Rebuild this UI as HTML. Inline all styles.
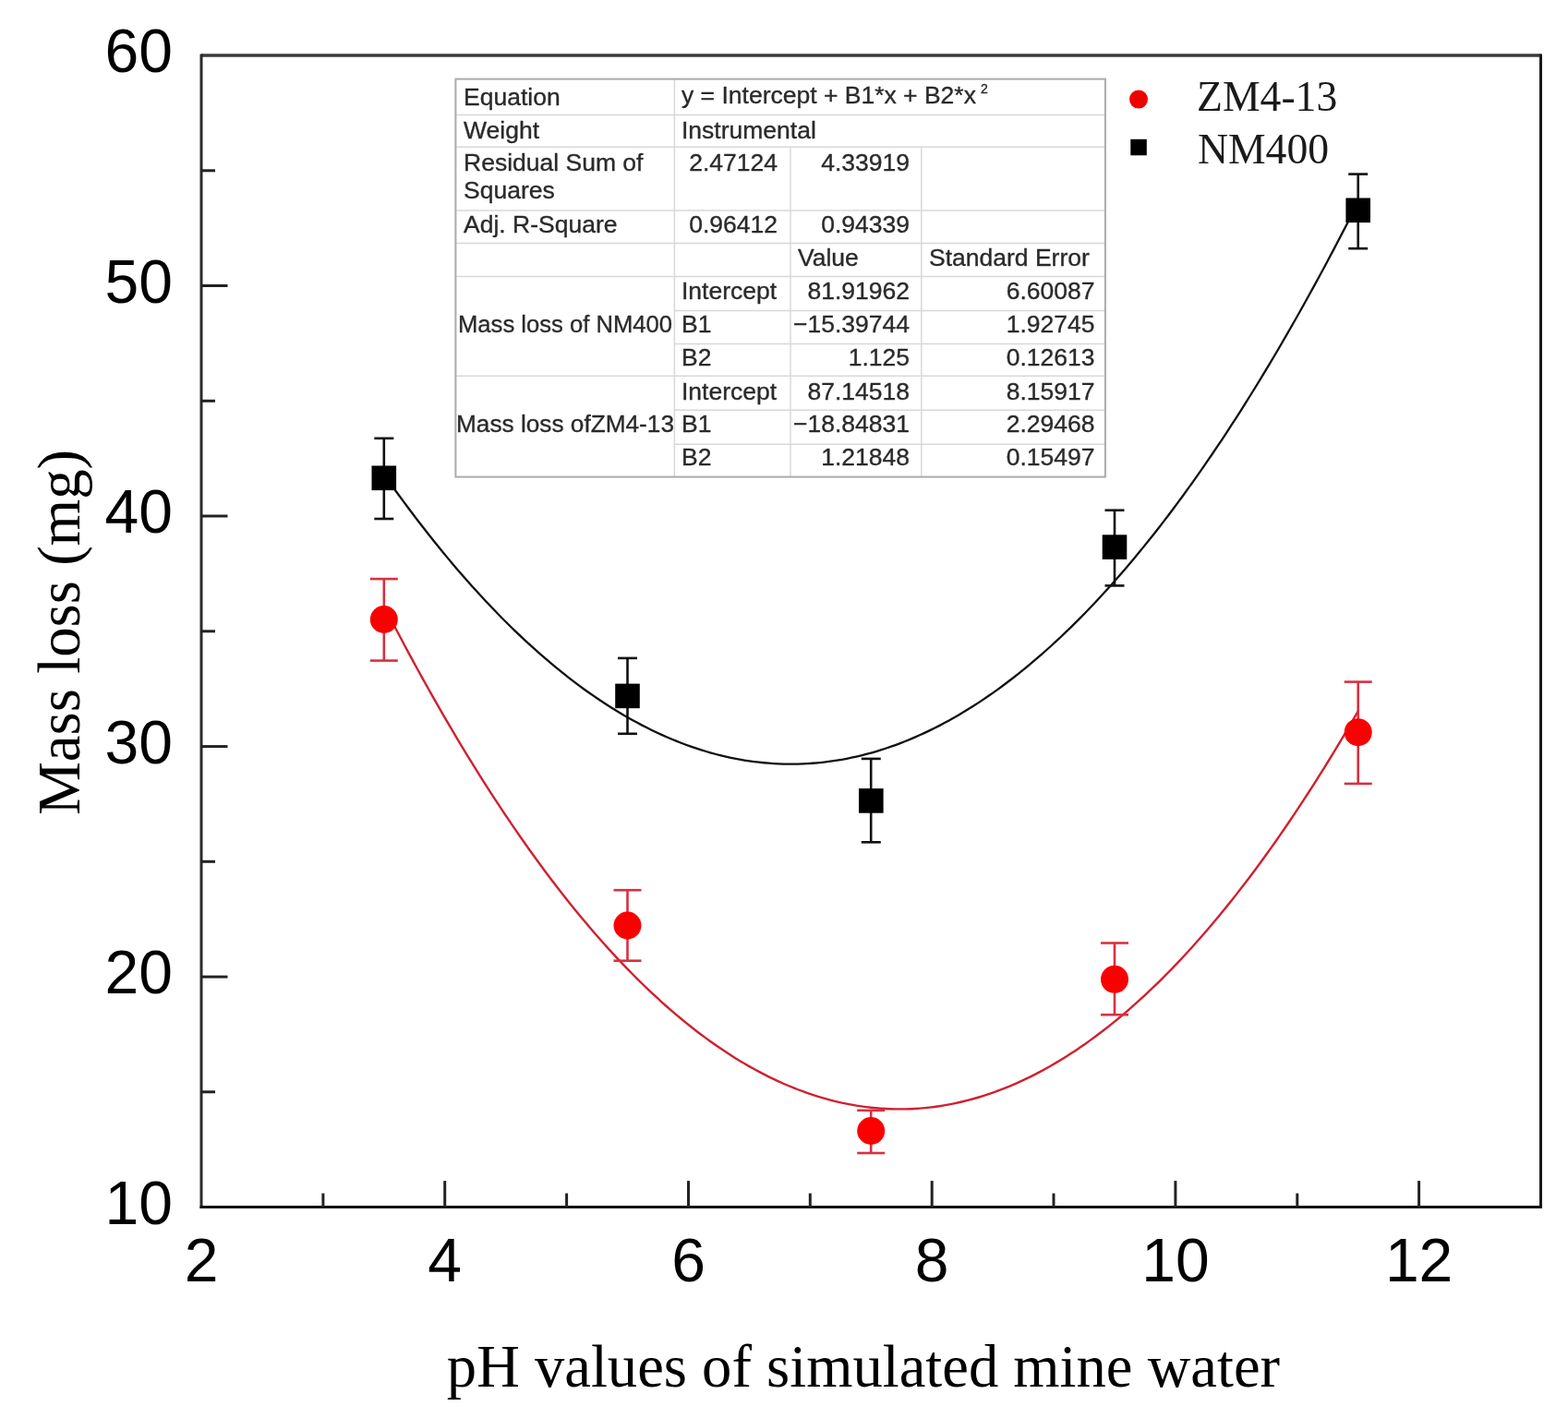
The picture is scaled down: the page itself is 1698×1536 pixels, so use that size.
<!DOCTYPE html><html><head><meta charset="utf-8"><style>html,body{margin:0;padding:0;background:#fff;}svg{display:block;filter:blur(0.45px)}</style></head><body>
<svg width="1698" height="1536" viewBox="0 0 1698 1536">
<rect x="0" y="0" width="1698" height="1536" fill="#fff"/>
<g stroke="#d8d8d8" stroke-width="1.5"><line x1="493.4" y1="124.5" x2="1196.9" y2="124.5"/><line x1="493.4" y1="159.3" x2="1196.9" y2="159.3"/><line x1="493.4" y1="228.1" x2="1196.9" y2="228.1"/><line x1="493.4" y1="263.5" x2="1196.9" y2="263.5"/><line x1="493.4" y1="299.4" x2="1196.9" y2="299.4"/><line x1="730.4" y1="336.6" x2="1196.9" y2="336.6"/><line x1="730.4" y1="372.4" x2="1196.9" y2="372.4"/><line x1="493.4" y1="407.3" x2="1196.9" y2="407.3"/><line x1="730.4" y1="444.3" x2="1196.9" y2="444.3"/><line x1="730.4" y1="481.3" x2="1196.9" y2="481.3"/><line x1="730.4" y1="85.6" x2="730.4" y2="516.6"/><line x1="856.0" y1="159.3" x2="856.0" y2="516.6"/><line x1="997.8" y1="159.3" x2="997.8" y2="516.6"/></g>
<rect x="493.4" y="85.6" width="703.5000000000001" height="431.0" fill="none" stroke="#aaa" stroke-width="2"/>
<g font-family="Liberation Sans, Arial, sans-serif" font-size="26.5" fill="#2a2a2a" stroke="#2a2a2a" stroke-width="0.35"><text x="502" y="113.5" text-anchor="start">Equation</text><text x="738" y="111.8" text-anchor="start">y = Intercept + B1*x + B2*x</text><text x="1062" y="101" text-anchor="start" font-size="14">2</text><text x="502" y="149.5" text-anchor="start">Weight</text><text x="738" y="149.5" text-anchor="start">Instrumental</text><text x="502" y="184.5" text-anchor="start">Residual Sum of</text><text x="502" y="215.2" text-anchor="start">Squares</text><text x="842" y="184.5" text-anchor="end">2.47124</text><text x="985" y="184.5" text-anchor="end">4.33919</text><text x="502" y="251.7" text-anchor="start">Adj. R-Square</text><text x="842" y="251.7" text-anchor="end">0.96412</text><text x="985" y="251.7" text-anchor="end">0.94339</text><text x="864" y="288.2" text-anchor="start">Value</text><text x="1006" y="288.2" text-anchor="start">Standard Error</text><text x="738" y="324.2" text-anchor="start">Intercept</text><text x="985" y="324.2" text-anchor="end">81.91962</text><text x="1185.5" y="324.2" text-anchor="end">6.60087</text><text x="738" y="359.5" text-anchor="start">B1</text><text x="985" y="359.5" text-anchor="end">−15.39744</text><text x="1185.5" y="359.5" text-anchor="end">1.92745</text><text x="738" y="396.0" text-anchor="start">B2</text><text x="985" y="396.0" text-anchor="end">1.125</text><text x="1185.5" y="396.0" text-anchor="end">0.12613</text><text x="738" y="432.5" text-anchor="start">Intercept</text><text x="985" y="432.5" text-anchor="end">87.14518</text><text x="1185.5" y="432.5" text-anchor="end">8.15917</text><text x="738" y="468.3" text-anchor="start">B1</text><text x="985" y="468.3" text-anchor="end">−18.84831</text><text x="1185.5" y="468.3" text-anchor="end">2.29468</text><text x="738" y="504.4" text-anchor="start">B2</text><text x="985" y="504.4" text-anchor="end">1.21848</text><text x="1185.5" y="504.4" text-anchor="end">0.15497</text><text x="612" y="359.5" text-anchor="middle" textLength="232" lengthAdjust="spacingAndGlyphs">Mass loss of NM400</text><text x="612" y="468.3" text-anchor="middle" textLength="236" lengthAdjust="spacingAndGlyphs">Mass loss ofZM4-13</text></g>
<path d="M415.80,513.88 L421.07,521.34 L426.34,528.72 L431.62,536.00 L436.89,543.19 L442.17,550.30 L447.44,557.31 L452.72,564.24 L457.99,571.07 L463.27,577.82 L468.54,584.47 L473.82,591.03 L479.09,597.51 L484.36,603.89 L489.64,610.19 L494.91,616.40 L500.19,622.51 L505.46,628.54 L510.74,634.47 L516.01,640.32 L521.29,646.08 L526.56,651.74 L531.84,657.32 L537.11,662.81 L542.38,668.20 L547.66,673.51 L552.93,678.73 L558.21,683.86 L563.48,688.89 L568.76,693.84 L574.03,698.70 L579.31,703.47 L584.58,708.15 L589.86,712.73 L595.13,717.23 L600.40,721.64 L605.68,725.96 L610.95,730.19 L616.23,734.33 L621.50,738.38 L626.78,742.34 L632.05,746.21 L637.33,749.99 L642.60,753.68 L647.88,757.28 L653.15,760.79 L658.42,764.21 L663.70,767.54 L668.97,770.78 L674.25,773.94 L679.52,777.00 L684.80,779.97 L690.07,782.85 L695.35,785.64 L700.62,788.34 L705.90,790.96 L711.17,793.48 L716.44,795.91 L721.72,798.26 L726.99,800.51 L732.27,802.67 L737.54,804.75 L742.82,806.73 L748.09,808.62 L753.37,810.43 L758.64,812.14 L763.92,813.77 L769.19,815.30 L774.46,816.74 L779.74,818.10 L785.01,819.36 L790.29,820.54 L795.56,821.62 L800.84,822.62 L806.11,823.53 L811.39,824.34 L816.66,825.07 L821.94,825.70 L827.21,826.25 L832.48,826.71 L837.76,827.07 L843.03,827.35 L848.31,827.54 L853.58,827.64 L858.86,827.64 L864.13,827.56 L869.41,827.39 L874.68,827.13 L879.96,826.77 L885.23,826.33 L890.50,825.80 L895.78,825.18 L901.05,824.47 L906.33,823.67 L911.60,822.78 L916.88,821.80 L922.15,820.73 L927.43,819.56 L932.70,818.31 L937.98,816.97 L943.25,815.54 L948.52,814.03 L953.80,812.42 L959.07,810.72 L964.35,808.93 L969.62,807.05 L974.90,805.08 L980.17,803.02 L985.45,800.87 L990.72,798.63 L996.00,796.31 L1001.27,793.89 L1006.54,791.38 L1011.82,788.78 L1017.09,786.10 L1022.37,783.32 L1027.64,780.45 L1032.92,777.49 L1038.19,774.45 L1043.47,771.31 L1048.74,768.08 L1054.02,764.77 L1059.29,761.36 L1064.56,757.87 L1069.84,754.28 L1075.11,750.61 L1080.39,746.84 L1085.66,742.99 L1090.94,739.04 L1096.21,735.01 L1101.49,730.88 L1106.76,726.67 L1112.04,722.36 L1117.31,717.97 L1122.58,713.48 L1127.86,708.91 L1133.13,704.25 L1138.41,699.49 L1143.68,694.65 L1148.96,689.72 L1154.23,684.69 L1159.51,679.58 L1164.78,674.38 L1170.06,669.09 L1175.33,663.70 L1180.60,658.23 L1185.88,652.67 L1191.15,647.02 L1196.43,641.28 L1201.70,635.45 L1206.98,629.52 L1212.25,623.51 L1217.53,617.41 L1222.80,611.22 L1228.08,604.94 L1233.35,598.57 L1238.62,592.11 L1243.90,585.56 L1249.17,578.92 L1254.45,572.19 L1259.72,565.37 L1265.00,558.46 L1270.27,551.46 L1275.55,544.38 L1280.82,537.20 L1286.10,529.93 L1291.37,522.57 L1296.64,515.12 L1301.92,507.58 L1307.19,499.96 L1312.47,492.24 L1317.74,484.43 L1323.02,476.53 L1328.29,468.55 L1333.57,460.47 L1338.84,452.30 L1344.12,444.04 L1349.39,435.70 L1354.66,427.26 L1359.94,418.74 L1365.21,410.12 L1370.49,401.41 L1375.76,392.62 L1381.04,383.73 L1386.31,374.76 L1391.59,365.69 L1396.86,356.54 L1402.14,347.29 L1407.41,337.96 L1412.68,328.53 L1417.96,319.02 L1423.23,309.42 L1428.51,299.72 L1433.78,289.94 L1439.06,280.06 L1444.33,270.10 L1449.61,260.05 L1454.88,249.90 L1460.16,239.67 L1465.43,229.35 L1470.70,218.94" fill="none" stroke="#111" stroke-width="2.3"/>
<path d="M415.80,656.29 L421.07,666.54 L426.34,676.69 L431.62,686.75 L436.89,696.71 L442.17,706.57 L447.44,716.33 L452.72,726.00 L457.99,735.57 L463.27,745.04 L468.54,754.42 L473.82,763.70 L479.09,772.88 L484.36,781.96 L489.64,790.94 L494.91,799.83 L500.19,808.62 L505.46,817.32 L510.74,825.91 L516.01,834.41 L521.29,842.82 L526.56,851.12 L531.84,859.33 L537.11,867.44 L542.38,875.45 L547.66,883.37 L552.93,891.18 L558.21,898.91 L563.48,906.53 L568.76,914.06 L574.03,921.48 L579.31,928.82 L584.58,936.05 L589.86,943.19 L595.13,950.23 L600.40,957.17 L605.68,964.02 L610.95,970.76 L616.23,977.41 L621.50,983.97 L626.78,990.42 L632.05,996.78 L637.33,1003.04 L642.60,1009.21 L647.88,1015.28 L653.15,1021.24 L658.42,1027.12 L663.70,1032.89 L668.97,1038.57 L674.25,1044.15 L679.52,1049.63 L684.80,1055.02 L690.07,1060.31 L695.35,1065.50 L700.62,1070.59 L705.90,1075.59 L711.17,1080.49 L716.44,1085.29 L721.72,1090.00 L726.99,1094.60 L732.27,1099.12 L737.54,1103.53 L742.82,1107.84 L748.09,1112.06 L753.37,1116.18 L758.64,1120.21 L763.92,1124.13 L769.19,1127.96 L774.46,1131.70 L779.74,1135.33 L785.01,1138.87 L790.29,1142.31 L795.56,1145.65 L800.84,1148.90 L806.11,1152.04 L811.39,1155.09 L816.66,1158.05 L821.94,1160.90 L827.21,1163.66 L832.48,1166.33 L837.76,1168.89 L843.03,1171.36 L848.31,1173.73 L853.58,1176.00 L858.86,1178.18 L864.13,1180.25 L869.41,1182.23 L874.68,1184.12 L879.96,1185.90 L885.23,1187.59 L890.50,1189.18 L895.78,1190.68 L901.05,1192.08 L906.33,1193.37 L911.60,1194.58 L916.88,1195.68 L922.15,1196.69 L927.43,1197.60 L932.70,1198.41 L937.98,1199.13 L943.25,1199.75 L948.52,1200.27 L953.80,1200.69 L959.07,1201.02 L964.35,1201.25 L969.62,1201.38 L974.90,1201.42 L980.17,1201.36 L985.45,1201.20 L990.72,1200.94 L996.00,1200.58 L1001.27,1200.13 L1006.54,1199.58 L1011.82,1198.94 L1017.09,1198.19 L1022.37,1197.35 L1027.64,1196.42 L1032.92,1195.38 L1038.19,1194.25 L1043.47,1193.02 L1048.74,1191.69 L1054.02,1190.27 L1059.29,1188.74 L1064.56,1187.13 L1069.84,1185.41 L1075.11,1183.60 L1080.39,1181.68 L1085.66,1179.68 L1090.94,1177.57 L1096.21,1175.37 L1101.49,1173.07 L1106.76,1170.67 L1112.04,1168.18 L1117.31,1165.58 L1122.58,1162.89 L1127.86,1160.11 L1133.13,1157.22 L1138.41,1154.24 L1143.68,1151.16 L1148.96,1147.99 L1154.23,1144.72 L1159.51,1141.35 L1164.78,1137.88 L1170.06,1134.31 L1175.33,1130.65 L1180.60,1126.89 L1185.88,1123.04 L1191.15,1119.08 L1196.43,1115.03 L1201.70,1110.88 L1206.98,1106.64 L1212.25,1102.29 L1217.53,1097.85 L1222.80,1093.31 L1228.08,1088.68 L1233.35,1083.95 L1238.62,1079.12 L1243.90,1074.19 L1249.17,1069.17 L1254.45,1064.04 L1259.72,1058.83 L1265.00,1053.51 L1270.27,1048.10 L1275.55,1042.58 L1280.82,1036.98 L1286.10,1031.27 L1291.37,1025.47 L1296.64,1019.57 L1301.92,1013.57 L1307.19,1007.48 L1312.47,1001.29 L1317.74,995.00 L1323.02,988.61 L1328.29,982.13 L1333.57,975.55 L1338.84,968.87 L1344.12,962.09 L1349.39,955.22 L1354.66,948.25 L1359.94,941.18 L1365.21,934.02 L1370.49,926.76 L1375.76,919.40 L1381.04,911.94 L1386.31,904.39 L1391.59,896.74 L1396.86,888.99 L1402.14,881.14 L1407.41,873.20 L1412.68,865.16 L1417.96,857.02 L1423.23,848.79 L1428.51,840.45 L1433.78,832.02 L1439.06,823.50 L1444.33,814.87 L1449.61,806.15 L1454.88,797.33 L1460.16,788.42 L1465.43,779.40 L1470.70,770.29" fill="none" stroke="#d02030" stroke-width="2.4"/>
<g stroke="#d83040" stroke-width="2.6"><line x1="415.8" y1="627.1" x2="415.8" y2="715.6"/><line x1="400.8" y1="627.1" x2="430.8" y2="627.1"/><line x1="400.8" y1="715.6" x2="430.8" y2="715.6"/></g><circle cx="415.8" cy="671.0" r="15" fill="#fa0000"/><g stroke="#d83040" stroke-width="2.6"><line x1="679.5" y1="964.2" x2="679.5" y2="1040.7"/><line x1="664.5" y1="964.2" x2="694.5" y2="964.2"/><line x1="664.5" y1="1040.7" x2="694.5" y2="1040.7"/></g><circle cx="679.5" cy="1002.5" r="15" fill="#fa0000"/><g stroke="#d83040" stroke-width="2.6"><line x1="943.2" y1="1202.8" x2="943.2" y2="1249.0"/><line x1="928.2" y1="1202.8" x2="958.2" y2="1202.8"/><line x1="928.2" y1="1249.0" x2="958.2" y2="1249.0"/></g><circle cx="943.2" cy="1225.0" r="15" fill="#fa0000"/><g stroke="#d83040" stroke-width="2.6"><line x1="1207.0" y1="1021.5" x2="1207.0" y2="1099.2"/><line x1="1192.0" y1="1021.5" x2="1222.0" y2="1021.5"/><line x1="1192.0" y1="1099.2" x2="1222.0" y2="1099.2"/></g><circle cx="1207.0" cy="1060.8" r="15" fill="#fa0000"/><g stroke="#d83040" stroke-width="2.6"><line x1="1470.7" y1="738.6" x2="1470.7" y2="848.9"/><line x1="1455.7" y1="738.6" x2="1485.7" y2="738.6"/><line x1="1455.7" y1="848.9" x2="1485.7" y2="848.9"/></g><circle cx="1470.7" cy="793.2" r="15" fill="#fa0000"/><g stroke="#111" stroke-width="2.6"><line x1="415.8" y1="474.8" x2="415.8" y2="562.0"/><line x1="405.3" y1="474.8" x2="426.3" y2="474.8"/><line x1="405.3" y1="562.0" x2="426.3" y2="562.0"/></g><rect x="402.5" y="504.5" width="26.6" height="26.6" fill="#000"/><g stroke="#111" stroke-width="2.6"><line x1="679.5" y1="712.9" x2="679.5" y2="794.8"/><line x1="669.0" y1="712.9" x2="690.0" y2="712.9"/><line x1="669.0" y1="794.8" x2="690.0" y2="794.8"/></g><rect x="666.2" y="740.6" width="26.6" height="26.6" fill="#000"/><g stroke="#111" stroke-width="2.6"><line x1="943.2" y1="821.9" x2="943.2" y2="912.3"/><line x1="932.8" y1="821.9" x2="953.8" y2="821.9"/><line x1="932.8" y1="912.3" x2="953.8" y2="912.3"/></g><rect x="930.0" y="854.1" width="26.6" height="26.6" fill="#000"/><g stroke="#111" stroke-width="2.6"><line x1="1207.0" y1="552.7" x2="1207.0" y2="634.4"/><line x1="1196.5" y1="552.7" x2="1217.5" y2="552.7"/><line x1="1196.5" y1="634.4" x2="1217.5" y2="634.4"/></g><rect x="1193.7" y="579.3" width="26.6" height="26.6" fill="#000"/><g stroke="#111" stroke-width="2.6"><line x1="1470.7" y1="188.6" x2="1470.7" y2="269.2"/><line x1="1460.2" y1="188.6" x2="1481.2" y2="188.6"/><line x1="1460.2" y1="269.2" x2="1481.2" y2="269.2"/></g><rect x="1457.4" y="214.5" width="26.6" height="26.6" fill="#000"/>
<line x1="218.0" y1="60.0" x2="1668.5" y2="60.0" stroke="#3a3a3a" stroke-width="3.5"/><line x1="218.0" y1="58.5" x2="218.0" y2="1309.1" stroke="#2a2a2a" stroke-width="3"/><line x1="1668.5" y1="58.5" x2="1668.5" y2="1309.1" stroke="#1a1a1a" stroke-width="3"/><line x1="216.5" y1="1307.6" x2="1670.0" y2="1307.6" stroke="#111" stroke-width="3"/><line x1="349.9" y1="1307.6" x2="349.9" y2="1292.6" stroke="#222" stroke-width="3"/><line x1="481.7" y1="1307.6" x2="481.7" y2="1279.1" stroke="#222" stroke-width="3"/><line x1="613.6" y1="1307.6" x2="613.6" y2="1292.6" stroke="#222" stroke-width="3"/><line x1="745.5" y1="1307.6" x2="745.5" y2="1279.1" stroke="#222" stroke-width="3"/><line x1="877.3" y1="1307.6" x2="877.3" y2="1292.6" stroke="#222" stroke-width="3"/><line x1="1009.2" y1="1307.6" x2="1009.2" y2="1279.1" stroke="#222" stroke-width="3"/><line x1="1141.0" y1="1307.6" x2="1141.0" y2="1292.6" stroke="#222" stroke-width="3"/><line x1="1272.9" y1="1307.6" x2="1272.9" y2="1279.1" stroke="#222" stroke-width="3"/><line x1="1404.8" y1="1307.6" x2="1404.8" y2="1292.6" stroke="#222" stroke-width="3"/><line x1="1536.6" y1="1307.6" x2="1536.6" y2="1279.1" stroke="#222" stroke-width="3"/><line x1="218.0" y1="1182.8" x2="233.0" y2="1182.8" stroke="#222" stroke-width="3"/><line x1="218.0" y1="1058.1" x2="246.5" y2="1058.1" stroke="#222" stroke-width="3"/><line x1="218.0" y1="933.3" x2="233.0" y2="933.3" stroke="#222" stroke-width="3"/><line x1="218.0" y1="808.6" x2="246.5" y2="808.6" stroke="#222" stroke-width="3"/><line x1="218.0" y1="683.8" x2="233.0" y2="683.8" stroke="#222" stroke-width="3"/><line x1="218.0" y1="559.0" x2="246.5" y2="559.0" stroke="#222" stroke-width="3"/><line x1="218.0" y1="434.3" x2="233.0" y2="434.3" stroke="#222" stroke-width="3"/><line x1="218.0" y1="309.5" x2="246.5" y2="309.5" stroke="#222" stroke-width="3"/><line x1="218.0" y1="184.8" x2="233.0" y2="184.8" stroke="#222" stroke-width="3"/>
<g font-family="Liberation Sans, Arial, sans-serif" font-size="66" fill="#000"><text x="218.0" y="1387.5" text-anchor="middle">2</text><text x="481.7" y="1387.5" text-anchor="middle">4</text><text x="745.5" y="1387.5" text-anchor="middle">6</text><text x="1009.2" y="1387.5" text-anchor="middle">8</text><text x="1272.9" y="1387.5" text-anchor="middle">10</text><text x="1536.6" y="1387.5" text-anchor="middle">12</text><text x="187" y="1325.9" text-anchor="end">10</text><text x="187" y="1076.4" text-anchor="end">20</text><text x="187" y="826.9" text-anchor="end">30</text><text x="187" y="577.3" text-anchor="end">40</text><text x="187" y="327.8" text-anchor="end">50</text><text x="187" y="78.3" text-anchor="end">60</text></g>
<text x="935" y="1502" text-anchor="middle" font-family="Liberation Serif, Times New Roman, serif" font-size="64.6" fill="#000">pH values of simulated mine water</text>
<text transform="translate(86,684.8) rotate(-90)" text-anchor="middle" font-family="Liberation Serif, Times New Roman, serif" font-size="64.8" fill="#000">Mass loss (mg)</text>
<circle cx="1233" cy="107.6" r="10" fill="#f00000"/>
<rect x="1224.3" y="150.8" width="17.5" height="17.5" fill="#000"/>
<g font-family="Liberation Serif, Times New Roman, serif" font-size="45.7" fill="#1a1a1a"><text x="1296" y="119.5">ZM4-13</text><text x="1297" y="177.2">NM400</text></g>
</svg></body></html>
